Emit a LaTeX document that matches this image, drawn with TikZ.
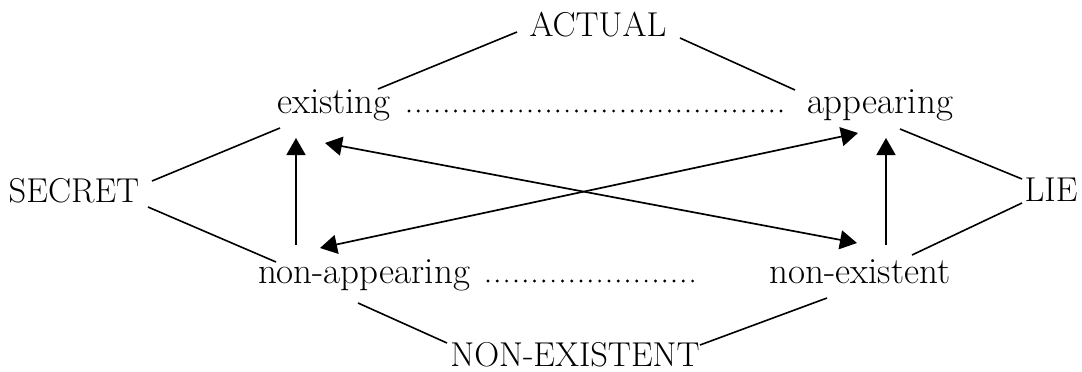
\documentclass[tikz,border=0pt]{standalone}
\usetikzlibrary{arrows.meta}
\begin{document}
\begin{tikzpicture}[x=1pt,y=-1pt,
  lbl/.style={inner sep=0pt,anchor=base,font=\fontsize{37}{42}\selectfont},
  caplbl/.style={inner sep=0pt,anchor=base,font=\fontsize{34.5}{40}\selectfont},
  conn/.style={line width=1.6pt},
  arr/.style={line width=1.7pt,-{Triangle[length=17pt,width=19pt]}},
  darr/.style={line width=1.7pt,{Triangle[length=17pt,width=19pt]}-{Triangle[length=17pt,width=19pt]}},
  dots/.style={line width=3.2pt,line cap=round,dash pattern=on 0pt off 9.3pt}]
\useasboundingbox (0,0) rectangle (1082,372);
\node[caplbl] (actual) at (598,36) {ACTUAL};
\node[lbl] (existing) at (334,113) {existing};
\node[lbl] (appearing) at (880,113) {appearing};
\node[caplbl] (secret) at (74,202) {SECRET};
\node[caplbl] (lie) at (1051,201) {LIE};
\node[lbl] (nonapp) at (364,283) {non-appearing};
\node[lbl] (nonex) at (860,283) {non-existent};
\node[caplbl] (NONEX) at (575,366) {NON-EXISTENT};
% plain connectors
\draw[conn] ([shift={(-81,-4)}]actual.base) -- ([shift={(44,-24)}]existing.base);
\draw[conn] ([shift={(82,2)}]actual.base) -- ([shift={(-85,-23)}]appearing.base);
\draw[conn] ([shift={(78,-21)}]secret.base) -- ([shift={(-54,15)}]existing.base);
\draw[conn] ([shift={(74,5)}]secret.base) -- ([shift={(-88,-21)}]nonapp.base);
\draw[conn] ([shift={(-29,-22)}]lie.base) -- ([shift={(20,16)}]appearing.base);
\draw[conn] ([shift={(-29,2)}]lie.base) -- ([shift={(52,-28)}]nonex.base);
\draw[conn] ([shift={(-128,-23)}]NONEX.base) -- ([shift={(-6,20)}]nonapp.base);
\draw[conn] ([shift={(125,-21)}]NONEX.base) -- ([shift={(-33,15)}]nonex.base);
% dotted
\draw[dots] ([shift={(75,-2)}]existing.base) -- ([shift={(-98,-2)}]appearing.base);
\draw[dots] ([shift={(124,-2)}]nonapp.base) -- ([shift={(-160,-2)}]nonex.base);
% arrows
\draw[arr] ([shift={(-68,-38)}]nonapp.base) -- ([shift={(-38,25)}]existing.base);
\draw[arr] ([shift={(26,-38)}]nonex.base) -- ([shift={(6,25)}]appearing.base);
\draw[darr] ([shift={(-9,30)}]existing.base) -- ([shift={(-3,-40)}]nonex.base);
\draw[darr] ([shift={(-44,-35)}]nonapp.base) -- ([shift={(-22,20)}]appearing.base);
\end{tikzpicture}
\end{document}
